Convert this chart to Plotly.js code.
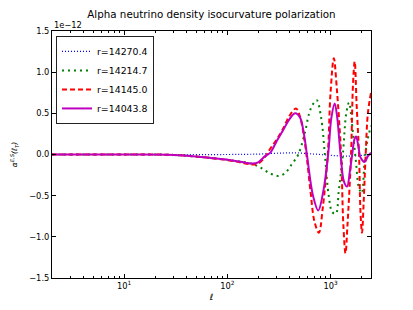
<!DOCTYPE html>
<html>
<head>
<meta charset="utf-8">
<script src="https://cdn.plot.ly/plotly-3.0.1.min.js"></script>
<style>html,body{margin:0;padding:0;background:#fff;}#chart{width:413px;height:310px;}</style>
</head>
<body>
<div id="chart"></div>
<script>
// values in units of 1e-12
const seriesNames = ["r=14270.4", "r=14214.7", "r=14145.0", "r=14043.8"];

const ellBlue = [2, 10, 30, 100, 200, 300, 450, 700, 1000, 1500, 2000, 2466];
const valBlue = [0, 0, 0, 0.0, 0.005, 0.015, 0.02, 0.005, -0.01, -0.02, -0.01, 0.0];

const ellGreen = [2, 10, 30, 55, 116, 170, 210, 260, 310, 360, 420, 487, 560, 640, 733, 810, 881, 960, 1040, 1125, 1200, 1316, 1420, 1510, 1620, 1766, 1880, 2005, 2130, 2260, 2466];
const valGreen = [0, 0, -0.005, -0.03, -0.075, -0.11, -0.16, -0.23, -0.26, -0.23, -0.12, 0.0, 0.25, 0.55, 0.66, 0.45, 0.0, -0.5, -0.7, -0.72, -0.45, 0.0, 0.5, 0.63, 0.35, -0.1, -0.4, -0.47, -0.1, 0.15, 0.35];

const ellRed = [2, 10, 30, 55, 116, 170, 199, 232, 260, 300, 349, 400, 462, 506, 552, 590, 640, 700, 771, 840, 940, 1000, 1076, 1150, 1265, 1330, 1396, 1460, 1580, 1650, 1714, 1790, 1888, 1950, 2018, 2090, 2190, 2300, 2466];
const valRed = [0, 0, -0.005, -0.03, -0.08, -0.12, -0.11, -0.03, 0.07, 0.18, 0.32, 0.47, 0.56, 0.46, 0.22, -0.05, -0.45, -0.82, -0.95, -0.65, 0.0, 0.75, 1.17, 0.8, 0.0, -0.85, -1.2, -0.85, 0.0, 0.85, 1.13, 0.6, 0.0, -0.7, -0.95, -0.6, 0.0, 0.5, 0.75];

const ellMag = [2, 10, 30, 55, 73, 116, 150, 175, 199, 232, 260, 297, 349, 400, 455, 506, 552, 590, 676, 760, 850, 948, 1020, 1097, 1160, 1250, 1350, 1446, 1540, 1622, 1700, 1766, 1860, 1960, 2140, 2300, 2466];
const valMag = [0, 0, -0.005, -0.03, -0.045, -0.075, -0.1, -0.11, -0.095, -0.02, 0.02, 0.15, 0.3, 0.43, 0.5, 0.45, 0.25, 0.0, -0.5, -0.68, -0.45, 0.0, 0.45, 0.62, 0.45, 0.0, -0.33, -0.39, -0.2, 0.0, 0.18, 0.22, 0.1, -0.04, -0.09, -0.02, 0.02];

const yTicks = [-1.5, -1.0, -0.5, 0.0, 0.5, 1.0, 1.5];
const yTickText = ["\u22121.5", "\u22121.0", "\u22120.5", "0.0", "0.5", "1.0", "1.5"];
const xTicks = [10, 100, 1000];
const xTickText = ["10<sup>1</sup>", "10<sup>2</sup>", "10<sup>3</sup>"];

const font = "DejaVu Sans, sans-serif";
const traces = [
  {x: ellBlue, y: valBlue, name: seriesNames[0], mode: "lines", line: {color: "#0000ff", width: 1.2, dash: "1px,2px", shape: "spline"}},
  {x: ellGreen, y: valGreen, name: seriesNames[1], mode: "lines", line: {color: "#008000", width: 2, dash: "2px,4px", shape: "spline"}},
  {x: ellRed, y: valRed, name: seriesNames[2], mode: "lines", line: {color: "#ff0000", width: 2, dash: "5px,3px", shape: "spline"}},
  {x: ellMag, y: valMag, name: seriesNames[3], mode: "lines", line: {color: "#bf00bf", width: 2, shape: "spline"}}
];

const layout = {
  width: 413, height: 310,
  margin: {l: 52, r: 42, t: 31, b: 32, pad: 0},
  paper_bgcolor: "#fff", plot_bgcolor: "#fff",
  font: {family: font, size: 8.3, color: "#000"},
  title: {text: "Alpha neutrino density isocurvature polarization", font: {family: font, size: 10.3, color: "#000"}, x: 0.512, xanchor: "center", y: 0.955, yanchor: "middle"},
  showlegend: true,
  legend: {x: 0.0125, y: 0.98, xanchor: "left", yanchor: "top", bgcolor: "#fff", bordercolor: "#222", borderwidth: 1, font: {family: font, size: 9.4, color: "#000"}},
  xaxis: {
    type: "log", range: [Math.log10(2), Math.log10(2466)],
    showline: true, linecolor: "#000", linewidth: 1, mirror: "allticks",
    ticks: "inside", ticklen: 4, tickcolor: "#000",
    tickmode: "array", tickvals: xTicks, ticktext: xTickText,
    showgrid: false, zeroline: false,
    minor: {ticks: "inside", ticklen: 2, tickcolor: "#000", dtick: "D1", showgrid: false},
    title: {text: "<i>ℓ</i>", font: {family: font, size: 8.5}, standoff: 4}
  },
  yaxis: {
    range: [-1.5, 1.5],
    showline: true, linecolor: "#000", linewidth: 1, mirror: "allticks",
    ticks: "inside", ticklen: 4, tickcolor: "#000",
    tickmode: "array", tickvals: yTicks, ticktext: yTickText,
    showgrid: false, zeroline: false,
    title: {text: "<i>α<sup>E,S</sup>(ℓ<sub>T</sub>)</i>", font: {family: font, size: 7.5}, standoff: 10}
  },
  annotations: [
    {text: "1e\u221212", xref: "paper", yref: "paper", x: 0.0, y: 1.0, xanchor: "left", yanchor: "bottom", showarrow: false, font: {family: font, size: 8.3}, yshift: -1}
  ]
};

Plotly.newPlot("chart", traces, layout, {staticPlot: true, displayModeBar: false});
</script>
</body>
</html>
